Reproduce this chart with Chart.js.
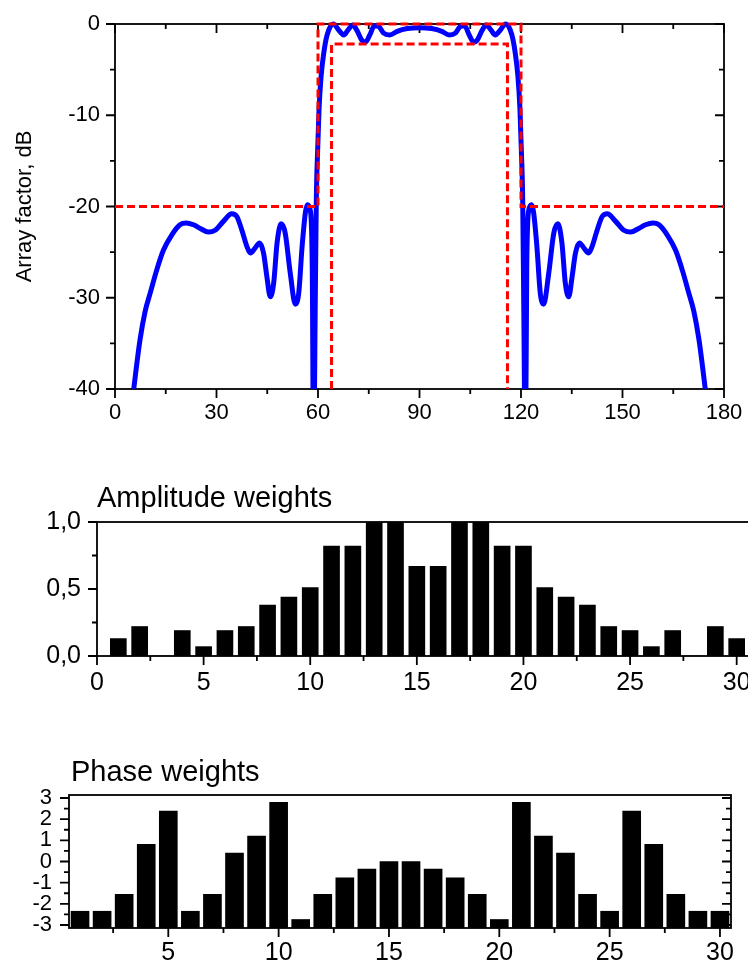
<!DOCTYPE html>
<html lang="en">
<head>
<meta charset="UTF-8">
<title>Array factor and element weights</title>
<script src="https://cdn.jsdelivr.net/npm/chart.js@4"></script>
<style>
  body { margin: 0; background: #fff; width: 748px; height: 965px; overflow: hidden; position: relative; }
  canvas { position: absolute; left: 0; }
  #afChart { top: 0; }
  #ampChart { top: 450px; }
  #phChart { top: 740px; }
</style>
</head>
<body>
<canvas id="afChart" width="748" height="440"></canvas>
<canvas id="ampChart" width="790" height="250"></canvas>
<canvas id="phChart" width="748" height="225"></canvas>

<script>
  // array factor (deg, dB)
  const afAngle = [5.2, 7.4, 8.9, 10.4, 12.3, 14.3, 16.8, 19.2, 21.0, 23.2, 25.2, 27.6, 29.6, 32.1, 34.5,
    36.0, 37.5, 39.0, 40.0, 41.5, 42.7, 43.9, 44.9, 45.9, 46.9, 47.9, 49.1, 50.3, 51.8, 53.3, 54.3, 55.3,
    56.3, 56.9, 57.7, 58.3, 58.7, 59.2, 59.5, 59.9, 60.3, 60.9, 61.7, 62.7, 64.5, 66.4, 67.6, 68.8, 70.3,
    71.5, 73.0, 74.0, 75.3, 76.7, 78.0, 79.4, 81.2, 83.4, 86.4, 90.0,
    93.6, 96.6, 98.8, 100.6, 102.0, 103.3, 104.7, 106.0, 107.0, 108.5, 109.7, 111.2, 112.4, 113.6, 115.5,
    117.3, 118.3, 119.1, 119.7, 120.1, 120.5, 120.8, 121.3, 121.7, 122.3, 123.1, 123.7, 124.7, 125.7,
    126.7, 128.2, 129.7, 130.9, 132.1, 133.1, 134.1, 135.1, 136.1, 137.3, 138.5, 140.0, 141.0, 142.5,
    144.0, 145.5, 147.9, 150.4, 152.4, 154.8, 156.8, 159.0, 160.8, 163.2, 165.7, 167.7, 169.6, 171.1,
    172.6, 174.8];
  const afDb = [-41, -34.6, -31.5, -29.5, -27.0, -24.8, -23.1, -22.0, -21.8, -22.0, -22.4, -22.8, -22.6, -21.6, -20.8,
    -21.1, -22.6, -24.4, -25.1, -24.5, -24.0, -25.1, -27.7, -29.9, -28.4, -24.0, -21.9, -22.9, -27.3, -30.7, -29.5, -24.4,
    -20.6, -19.8, -20.4, -26.6, -48, -30.2, -19.3, -13.8, -9.4, -5.8, -3.2, -1.2, 0.0, -0.8, -1.2, -0.7, -0.1,
    -0.7, -1.8, -2.0, -1.2, -0.2, -0.3, -1.0, -1.2, -0.8, -0.5, -0.4,
    -0.5, -0.8, -1.2, -1.0, -0.3, -0.2, -1.2, -2.0, -1.8, -0.7, -0.1, -0.7, -1.2, -0.8, 0.0,
    -1.2, -3.2, -5.8, -9.4, -13.8, -19.3, -30.2, -48, -26.6, -20.4, -19.8, -20.6, -24.4, -29.5,
    -30.7, -27.3, -22.9, -21.9, -24.0, -28.4, -29.9, -27.7, -25.1, -24.0, -24.5, -25.1, -24.4, -22.6,
    -21.1, -20.8, -21.6, -22.6, -22.8, -22.4, -22.0, -21.8, -22.0, -23.1, -24.8, -27.0, -29.5, -31.5,
    -34.6, -41];

  // mask lines
  const maskUpX = [0, 60, 60, 120, 120, 180];
  const maskUpY = [-20, -20, 0, 0, -20, -20];
  const maskLowX = [64, 64, 116, 116];
  const maskLowY = [-40, -2.2, -2.2, -40];

  const afXTicks = [0, 30, 60, 90, 120, 150, 180];
  const afYTicks = [-40, -30, -20, -10, 0];

  // element weights
  const elemIndex = [1, 2, 3, 4, 5, 6, 7, 8, 9, 10, 11, 12, 13, 14, 15, 16, 17, 18, 19, 20, 21, 22, 23, 24, 25, 26, 27, 28, 29, 30];
  const ampWeights = [0.13, 0.22, 0, 0.19, 0.07, 0.19, 0.22, 0.38, 0.44, 0.51, 0.82, 0.82, 1.0, 1.0, 0.67,
    0.67, 1.0, 1.0, 0.82, 0.82, 0.51, 0.44, 0.38, 0.22, 0.19, 0.07, 0.19, 0, 0.22, 0.13];
  const phaseWeights = [-2.35, -2.35, -1.55, 0.81, 2.38, -2.35, -1.55, 0.40, 1.20, 2.80, -2.74, -1.55, -0.77, -0.36, 0.0,
    0.0, -0.36, -0.77, -1.55, -2.74, 2.80, 1.20, 0.40, -1.55, -2.35, 2.38, 0.81, -1.55, -2.35, -2.35];

  const ampXTicks = [0, 5, 10, 15, 20, 25, 30];
  const ampYTicks = [0, 0.5, 1];
  const phXTicks = [5, 10, 15, 20, 25, 30];
  const phYTicks = [-3, -2, -1, 0, 1, 2, 3];

  Chart.defaults.font.family = "'Liberation Sans', Arial, sans-serif";
  Chart.defaults.color = '#000';

  // box frame, in/out tick marks and the small panel titles
  const frameTicks = {
    id: 'frameTicks',
    beforeDatasetsDraw(chart, args, o) {
      const { ctx, chartArea: a } = chart;
      const sx = chart.scales.x, sy = chart.scales.y;
      const isMajor = (v, m) => Math.abs(v / m - Math.round(v / m)) < 1e-6;
      ctx.save();
      ctx.strokeStyle = '#000';
      ctx.lineWidth = 1.8;
      ctx.strokeRect(a.left, a.top, a.right - a.left, a.bottom - a.top);
      ctx.beginPath();
      for (let v = o.x[0]; v <= o.x[1] + 1e-6; v += o.x[2]) {
        const len = isMajor(v, o.x[3]) ? 9 : 5;
        const p = sx.getPixelForValue(v);
        if (o.bottom) { ctx.moveTo(p, a.bottom); ctx.lineTo(p, a.bottom + o.bottom * len); }
        if (o.top) { ctx.moveTo(p, a.top); ctx.lineTo(p, a.top - o.top * len); }
      }
      for (let v = o.y[0]; v <= o.y[1] + 1e-6; v += o.y[2]) {
        const len = isMajor(v, o.y[3]) ? 9 : 5;
        const p = sy.getPixelForValue(v);
        if (o.left) { ctx.moveTo(a.left, p); ctx.lineTo(a.left - o.left * len, p); }
        if (o.right) { ctx.moveTo(a.right, p); ctx.lineTo(a.right + o.right * len, p); }
      }
      ctx.stroke();
      if (o.title) {
        ctx.fillStyle = '#000';
        ctx.font = o.titleFont;
        ctx.textBaseline = 'alphabetic';
        ctx.textAlign = 'left';
        ctx.fillText(o.title, o.titleX, o.titleY);
      }
      ctx.restore();
    }
  };

  const noGrid = { display: false, drawTicks: false };
  const noBorder = { display: false };
  // fixed axis boxes, no extra room for overhanging labels
  const fitX = h => s => { s.height = h; s.paddingLeft = 0; s.paddingRight = 0; };
  const fitY = w => s => { s.width = w; s.paddingTop = 0; s.paddingBottom = 0; };

  new Chart(document.getElementById('afChart'), {
    type: 'line',
    data: {
      datasets: [
        {
          data: maskUpX.map((x, i) => ({ x, y: maskUpY[i] })),
          borderColor: '#ff0000', borderWidth: 3, borderDash: [8, 4],
          pointRadius: 0, tension: 0, clip: false
        },
        {
          data: maskLowX.map((x, i) => ({ x, y: maskLowY[i] })),
          borderColor: '#ff0000', borderWidth: 3, borderDash: [8, 4],
          pointRadius: 0, tension: 0, clip: false
        },
        {
          data: afAngle.map((x, i) => ({ x, y: afDb[i] })),
          borderColor: '#0000ff', borderWidth: 5,
          pointRadius: 0, cubicInterpolationMode: 'monotone',
          clip: { left: 0, top: 6, right: 0, bottom: 0 }
        }
      ]
    },
    options: {
      responsive: false,
      animation: false,
      events: [],
      layout: { padding: { top: 24, right: 24, left: 0, bottom: 0 } },
      plugins: {
        legend: { display: false },
        tooltip: { enabled: false },
        frameTicks: { x: [0, 180, 15, 30], y: [-40, 0, 5, 10], bottom: 1, top: -1, left: 1, right: -1 }
      },
      scales: {
        x: {
          type: 'linear', min: 0, max: 180,
          grid: noGrid, border: noBorder,
          ticks: { font: { size: 22 }, padding: 11, autoSkip: false, maxRotation: 0 },
          afterBuildTicks: s => { s.ticks = afXTicks.map(v => ({ value: v })); },
          afterFit: fitX(51)
        },
        y: {
          min: -40, max: 0,
          grid: noGrid, border: noBorder,
          ticks: { font: { size: 22 }, padding: 15, autoSkip: false },
          title: { display: true, text: 'Array factor, dB', font: { size: 22 }, padding: { top: 12, bottom: 0 } },
          afterBuildTicks: s => { s.ticks = afYTicks.map(v => ({ value: v })); },
          afterFit: fitY(115)
        }
      }
    },
    plugins: [frameTicks]
  });

  new Chart(document.getElementById('ampChart'), {
    type: 'bar',
    data: {
      datasets: [{
        data: elemIndex.map((x, i) => ({ x, y: ampWeights[i] })),
        backgroundColor: '#000', borderWidth: 0, barThickness: 16
      }]
    },
    options: {
      responsive: false,
      animation: false,
      events: [],
      layout: { padding: { top: 72, right: 32, left: 0, bottom: 0 } },
      plugins: {
        legend: { display: false },
        tooltip: { enabled: false },
        frameTicks: {
          x: [0, 30, 2.5, 5], y: [0, 1, 0.25, 0.5], bottom: 1, left: 1,
          title: 'Amplitude weights', titleFont: "29px 'Liberation Sans', Arial, sans-serif", titleX: 97, titleY: 57
        }
      },
      scales: {
        x: {
          type: 'linear', min: 0, max: 31, offset: false,
          grid: noGrid, border: noBorder,
          ticks: { font: { size: 25 }, padding: 12, autoSkip: false, maxRotation: 0 },
          afterBuildTicks: s => { s.ticks = ampXTicks.map(v => ({ value: v })); },
          afterFit: fitX(44)
        },
        y: {
          min: 0, max: 1,
          grid: noGrid, border: noBorder,
          ticks: { font: { size: 25 }, padding: 16, autoSkip: false, callback: v => v.toFixed(1).replace('.', ',') },
          afterBuildTicks: s => { s.ticks = ampYTicks.map(v => ({ value: v })); },
          afterFit: fitY(97)
        }
      }
    },
    plugins: [frameTicks]
  });

  new Chart(document.getElementById('phChart'), {
    type: 'bar',
    data: {
      datasets: [{
        data: elemIndex.map((x, i) => ({ x, y: [-Math.PI, phaseWeights[i]] })),
        backgroundColor: '#000', borderWidth: 0, barThickness: 18
      }]
    },
    options: {
      responsive: false,
      animation: false,
      events: [],
      layout: { padding: { top: 55, right: 17, left: 0, bottom: 0 } },
      plugins: {
        legend: { display: false },
        tooltip: { enabled: false },
        frameTicks: {
          x: [2.5, 30, 2.5, 5], y: [-3, 3, 0.5, 1], bottom: 1, left: 1, right: -1,
          title: 'Phase weights', titleFont: "29px 'Liberation Sans', Arial, sans-serif", titleX: 71, titleY: 41
        }
      },
      scales: {
        x: {
          type: 'linear', min: 0.5, max: 30.5, offset: false,
          grid: noGrid, border: noBorder,
          ticks: { font: { size: 25 }, padding: 10, autoSkip: false, maxRotation: 0 },
          afterBuildTicks: s => { s.ticks = phXTicks.map(v => ({ value: v })); },
          afterFit: fitX(37)
        },
        y: {
          min: -Math.PI, max: Math.PI,
          grid: noGrid, border: noBorder,
          ticks: { font: { size: 22 }, padding: 17, autoSkip: false },
          afterBuildTicks: s => { s.ticks = phYTicks.map(v => ({ value: v })); },
          afterFit: fitY(69)
        }
      }
    },
    plugins: [frameTicks]
  });
</script>
</body>
</html>
